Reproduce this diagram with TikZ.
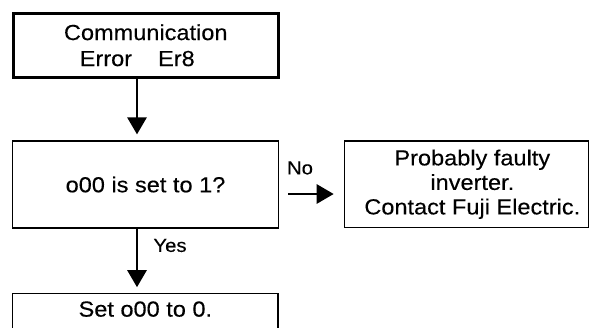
\documentclass[tikz,border=0pt]{standalone}
\usepackage{fontspec}
\setmainfont{Liberation Sans}[FakeStretch=1.08,FakeBold=0.25]
\usetikzlibrary{arrows.meta}
\begin{document}
\begin{tikzpicture}[x=1pt,y=-1pt,
  boxthin/.style={draw=black,line width=1.2pt,inner sep=0pt,align=center,
    font=\fontsize{21.8}{24.5}\selectfont},
  boxthick/.style={draw=black,line width=3pt,inner sep=0pt,align=center,
    font=\fontsize{21.8}{26}\selectfont},
  conn/.style={line width=2.8pt,-{Triangle[length=17pt,width=19pt]}},
  lbl/.style={inner sep=0pt,font=\fontsize{18.8}{22}\selectfont}]
\useasboundingbox (0,0) rectangle (589,327);
\node[boxthick,minimum width=264.5pt,minimum height=63.5pt] (start) at (145.75,45.25)
  {Communication\\Error\hspace{26pt}Er8\makebox[17pt]{}};
\node[boxthin,minimum width=265.6pt,minimum height=87pt] (check) at (145.5,184.5)
  {o00 is set to 1?};
\node[boxthin,minimum width=244pt,minimum height=86.5pt] (fault) at (466.3,184.25)
  {\makebox[12pt]{}Probably faulty\\\makebox[12pt]{}inverter.\\\makebox[12pt]{}Contact Fuji Electric.};
\node[boxthin,anchor=north,minimum width=265.3pt,text height=18.3pt,text depth=40pt,inner ysep=5pt]
  (set) at (145.35,292.7) {Set o00 to 0.};
\coordinate (ax) at (137,0);
\coordinate (ny) at (0,194);
\draw[conn,shorten >=6pt] (start.south -| ax) -- (check.north -| ax);
\draw[conn,shorten >=5.5pt] (check.south -| ax) -- (set.north -| ax);
\draw[conn,shorten <=9.5pt,shorten >=10pt] (check.east |- ny) -- (fault.west |- ny);
\node[lbl] (no) at (300,168) {No};
\node[lbl] (yes) at (170,245.5) {Yes};
\end{tikzpicture}
\end{document}
